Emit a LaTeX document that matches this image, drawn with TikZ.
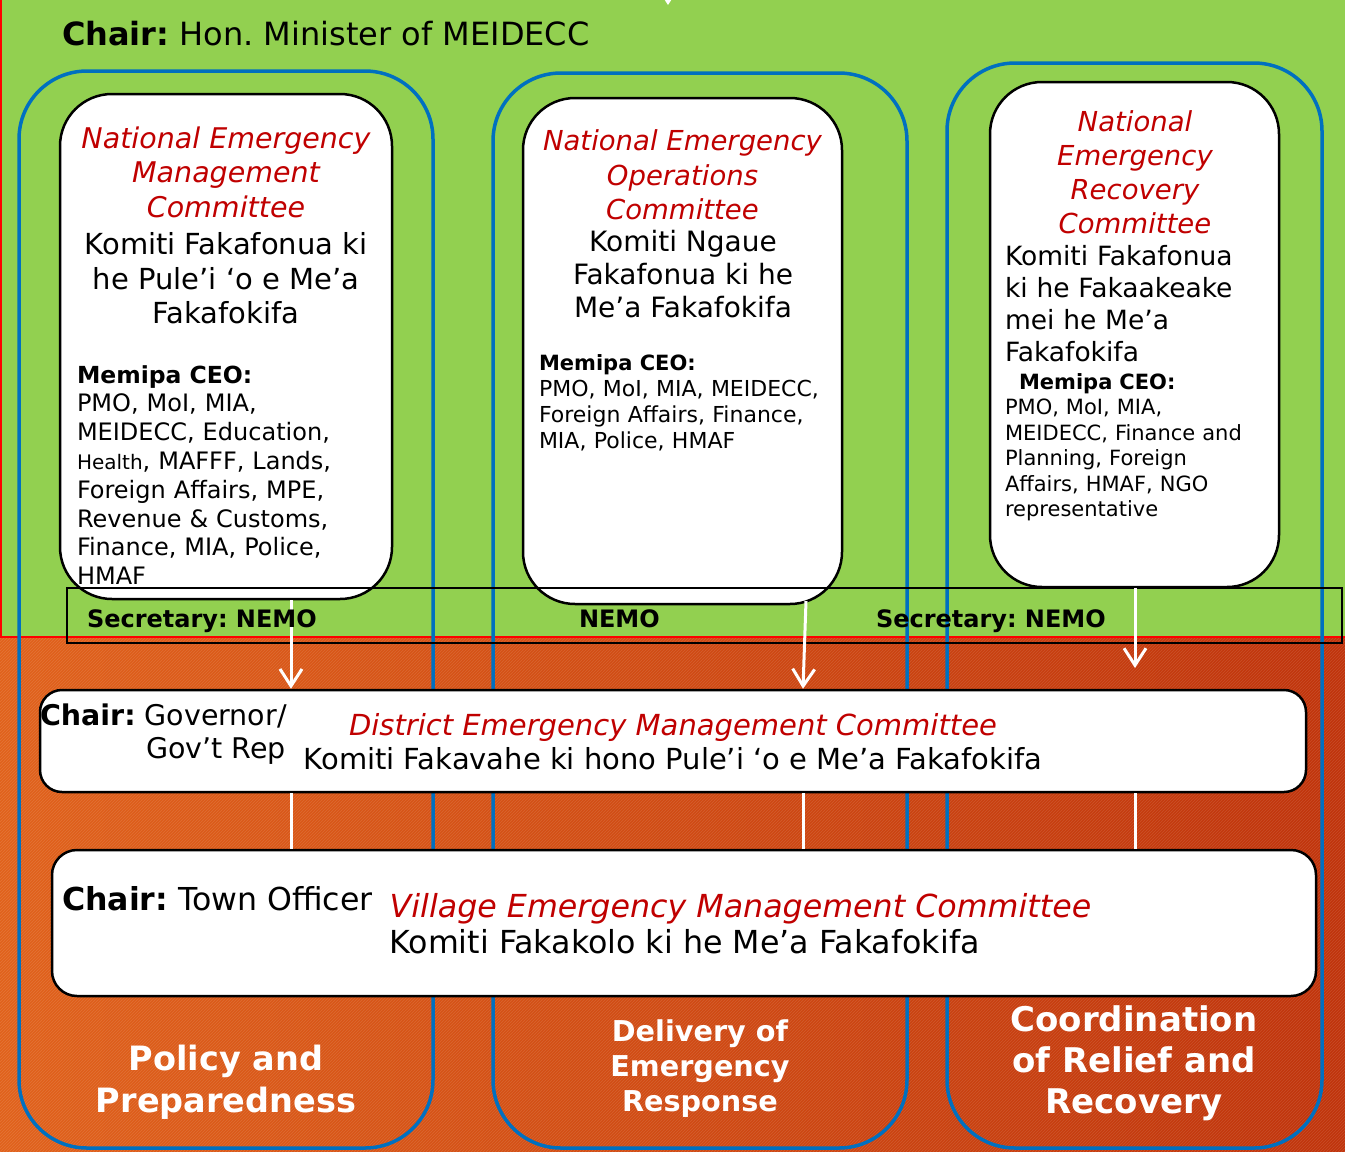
\documentclass[tikz,border=0pt]{standalone}
\usepackage{fontspec}
\setmainfont{DejaVu Sans}
\usetikzlibrary{arrows.meta,patterns}
\definecolor{grn}{HTML}{92D050}
\definecolor{bluec}{HTML}{0070C0}
\definecolor{redc}{HTML}{C00000}
\definecolor{orL}{HTML}{E0621C}
\definecolor{orR}{HTML}{C0340C}
\newcommand\fs[2]{\fontsize{#1}{#2}\selectfont}
\frenchspacing
\begin{document}
\begin{tikzpicture}[x=1pt,y=-1pt,
  col/.style={draw=bluec,line width=3.5pt,rounded corners=68pt,inner sep=0pt},
  wbox/.style={draw=black,line width=2.5pt,fill=white,rounded corners=52pt,inner sep=0pt},
  lbox/.style={draw=black,line width=2.5pt,fill=white,inner sep=0pt},
  secbox/.style={draw=black,line width=2.5pt,inner sep=0pt},
  txt/.style={inner sep=0pt,outer sep=0pt},
  warrow/.style={draw=white,line width=3pt,-{Straight Barb[length=17pt,width=22pt]}},
  wline/.style={draw=white,line width=3pt},
  btxt/.style={inner sep=0pt,text=white,align=center,font=\bfseries}
]
\useasboundingbox (0,0) rectangle (1345,1152);
% background
\shade[left color=orL,right color=orR] (0,0) rectangle (1345,1152);
\fill[pattern=north east lines,pattern color=white,opacity=0.12] (0,637) rectangle (1345,1152);
\fill[grn] (0,-5) rectangle (1345,637);
\draw[red,line width=2pt] (1,-5) -- (1,637) -- (1350,637);

% columns
\node[col,minimum width=414pt,minimum height=1077pt] (col1) at (226,609.5) {};
\node[col,minimum width=414pt,minimum height=1075pt] (col2) at (700,610.5) {};
\node[col,minimum width=375pt,minimum height=1085pt] (col3) at (1134.5,605.5) {};

% national boxes
\node[wbox,minimum width=332pt,minimum height=505pt] (boxA) at (226,346.5) {};
\node[wbox,minimum width=319pt,minimum height=506pt] (boxB) at (682.5,351) {};
\node[wbox,minimum width=289pt,minimum height=505pt] (boxC) at (1134.5,334.5) {};

% secretary band
\node[secbox,minimum width=1275pt,minimum height=55pt] (sec) at (704.5,615.5) {};

% district and village boxes
\node[lbox,rounded corners=22pt,minimum width=1266pt,minimum height=102pt] (district) at (673,741) {};
\node[lbox,rounded corners=25pt,minimum width=1264pt,minimum height=146pt] (village) at (684,923) {};

% connector coordinates
\coordinate (a1) at (291,0);
\coordinate (a2s) at (806,601);
\coordinate (a2) at (803,0);
\coordinate (a3) at (1135,0);
\coordinate (a3e) at (1135,668);
\coordinate (topA) at (668,-40);
\coordinate (topB) at (668,5);

\draw[warrow] (topA) -- (topB);
\draw[warrow] (boxA.south -| a1) -- (district.north -| a1);
\draw[warrow] (a2s) -- (district.north -| a2);
\draw[warrow] (boxC.south -| a3) -- (a3e);
\draw[wline] (district.south -| a1) -- (village.north -| a1);
\draw[wline] (district.south -| a2) -- (village.north -| a2);
\draw[wline] (district.south -| a3) -- (village.north -| a3);

% title
\node[txt,anchor=base west,font=\fs{32}{38}] (title) at (62,45.5) {\textbf{Chair:} Hon. Minister of MEIDECC};

% box A texts
\node[txt,text=redc,align=center,font=\itshape\fs{28.5}{34.5}] (tA1) at (226,172) {National Emergency\\Management\\Committee};
\node[txt,align=center,font=\fs{29}{34.5}] (tA2) at (226,278.5) {Komiti Fakafonua ki\\he Pule’i ‘o e Me’a\\Fakafokifa};
\node[txt,anchor=west,align=left,text width=320pt,font=\fs{24}{28.8}] (tA3) at (77,475)
 {{\bfseries\fs{23.5}{28.8}Memipa CEO:}\\PMO, MoI, MIA,\\MEIDECC, Education,\\{\fs{20}{28.8}Health}, MAFFF, Lands,\\Foreign Affairs, MPE,\\Revenue \& Customs,\\Finance, MIA, Police,\\HMAF};

% box B texts
\node[txt,text=redc,align=center,font=\itshape\fs{27.5}{34.5}] (tB1) at (682.5,175) {National Emergency\\Operations\\Committee};
\node[txt,align=center,font=\fs{28}{33}] (tB2) at (683,274.5) {Komiti Ngaue\\Fakafonua ki he\\Me’a Fakafokifa};
\node[txt,anchor=west,align=left,text width=300pt,font=\fs{22}{26}] (tB3) at (539,403)
 {{\bfseries\fs{21}{26}Memipa CEO:}\\PMO, MoI, MIA, MEIDECC,\\Foreign Affairs, Finance,\\MIA, Police, HMAF};

% box C texts
\node[txt,text=redc,align=center,font=\itshape\fs{27.5}{34}] (tC1) at (1135,172.5) {National\\Emergency\\Recovery\\Committee};
\node[txt,anchor=west,align=left,text width=270pt,font=\fs{26.5}{32}] (tC2) at (1005,304) {Komiti Fakafonua\\ki he Fakaakeake\\mei he Me’a\\Fakafokifa};
\node[txt,anchor=west,align=left,text width=270pt,font=\fs{21}{25.5}] (tC3) at (1005,447)
 {\hspace*{14pt}{\bfseries Memipa CEO:}\\PMO, MoI, MIA,\\MEIDECC, Finance and\\Planning, Foreign\\Affairs, HMAF, NGO\\representative};

% secretary texts
\node[txt,anchor=base west,font=\bfseries\fs{24}{28}] (s1) at (87,627) {Secretary: NEMO};
\node[txt,anchor=base west,font=\bfseries\fs{24}{28}] (s2) at (579,627) {NEMO};
\node[txt,anchor=base west,font=\bfseries\fs{24}{28}] (s3) at (876,627) {Secretary: NEMO};

% district texts
\node[txt,anchor=base west,font=\fs{28.5}{34}] (dchair) at (40,725.5) {\textbf{Chair:} Governor/};
\node[txt,anchor=base east,font=\fs{28.5}{34}] (drep) at (286,758.5) {Gov’t Rep};
\node[txt,anchor=base,text=redc,font=\itshape\fs{29}{34}] (dred) at (673,735.5) {District Emergency Management Committee};
\node[txt,anchor=base,font=\fs{29}{34}] (dblk) at (673,769.5) {Komiti Fakavahe ki hono Pule’i ‘o e Me’a Fakafokifa};

% village texts
\node[txt,anchor=base west,font=\fs{31.6}{38}] (vchair) at (62,910.5) {\textbf{Chair:} Town Officer};
\node[txt,anchor=base,text=redc,font=\itshape\fs{31.7}{38}] (vred) at (740.5,917.5) {Village Emergency Management Committee};
\node[txt,anchor=base,font=\fs{31.7}{38}] (vblk) at (684.5,953.5) {Komiti Fakakolo ki he Me’a Fakafokifa};

% bottom labels
\node[btxt,font=\bfseries\fs{33.5}{42}] (L1) at (226,1082.5) {Policy and\\Preparedness};
\node[btxt,font=\bfseries\fs{28.7}{35}] (L2) at (700,1068.5) {Delivery of\\Emergency\\Response};
\node[btxt,font=\bfseries\fs{34}{41}] (L3) at (1134,1063) {Coordination\\of Relief and\\Recovery};
\end{tikzpicture}
\end{document}
